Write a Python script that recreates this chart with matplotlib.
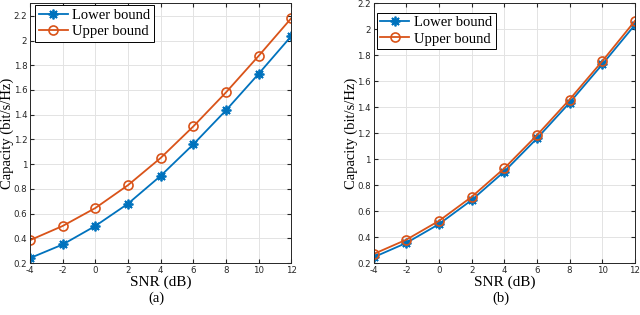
import numpy as np
import matplotlib
matplotlib.use("Agg")
import matplotlib.pyplot as plt

plt.rcParams["axes.unicode_minus"] = False

# data
snr = [-4, -2, 0, 2, 4, 6, 8, 10, 12]
lower_a = [0.24, 0.35, 0.50, 0.68, 0.905, 1.16, 1.435, 1.73, 2.035]
upper_a = [0.385, 0.50, 0.645, 0.83, 1.05, 1.305, 1.58, 1.875, 2.18]
lower_b = [0.245, 0.355, 0.50, 0.685, 0.905, 1.16, 1.435, 1.73, 2.035]
upper_b = [0.27, 0.38, 0.525, 0.71, 0.93, 1.185, 1.46, 1.755, 2.065]
xticks = [-4, -2, 0, 2, 4, 6, 8, 10, 12]
captions = ["(a)", "(b)"]

blue = "#0072BD"
orange = "#D95319"
serif = "Liberation Serif"
asterisk = (8, 2, 0)

fig = plt.figure(figsize=(6.4, 3.15), dpi=100)
ax_a = fig.add_axes([0.047, 0.165, 0.408, 0.824])
ax_b = fig.add_axes([0.584, 0.165, 0.408, 0.824])

panels = [
    (ax_a, lower_a, upper_a, (0.2, 2.3), (0.019, 0.994)),
    (ax_b, lower_b, upper_b, (0.2, 2.2), (0.011, 0.965)),
]

for i, (ax, lo, up, ylim, anchor) in enumerate(panels):
    ax.plot(snr, lo, color=blue, marker=asterisk, markersize=7, mew=1.3, lw=1.3,
            label="Lower bound")
    ax.plot(snr, up, color=orange, marker="o", markersize=6.5, mfc="none", mew=1.2,
            lw=1.3, label="Upper bound")
    ax.set_xlim(-4, 12)
    ax.set_ylim(*ylim)
    ax.set_xticks(xticks)
    ax.set_yticks(np.arange(0.2, 2.21, 0.2))
    ax.set_yticklabels(["0.2", "0.4", "0.6", "0.8", "1", "1.2", "1.4", "1.6", "1.8", "2", "2.2"])
    ax.grid(True, color="#e3e3e3", lw=0.7)
    ax.set_axisbelow(True)
    ax.tick_params(direction="in", labelsize=6.2, colors="#262626", length=3, pad=2,
                   top=True, right=True)
    for s in ax.spines.values():
        s.set_color("#262626")
        s.set_linewidth(0.7)
    ax.set_xlabel("SNR (dB)", fontsize=11, family=serif)
    ax.xaxis.set_label_coords(0.5, -0.05)
    ax.set_ylabel("Capacity (bit/s/Hz)", fontsize=10.5, family=serif)
    ax.yaxis.set_label_coords(-0.06, 0.5)
    leg = ax.legend(loc="upper left", bbox_to_anchor=anchor,
                    prop={"family": serif, "size": 10.5},
                    fancybox=False, edgecolor="black", framealpha=1,
                    borderpad=0.25, handlelength=2.0, handletextpad=0.3,
                    labelspacing=0.2, borderaxespad=0)
    leg.get_frame().set_linewidth(0.7)
    pos = ax.get_position()
    fig.text((pos.x0 + pos.x1) / 2 - 0.006, 0.052, captions[i], ha="center", va="center",
             fontsize=10.5, family=serif)

fig.savefig("out.png", dpi=100)
